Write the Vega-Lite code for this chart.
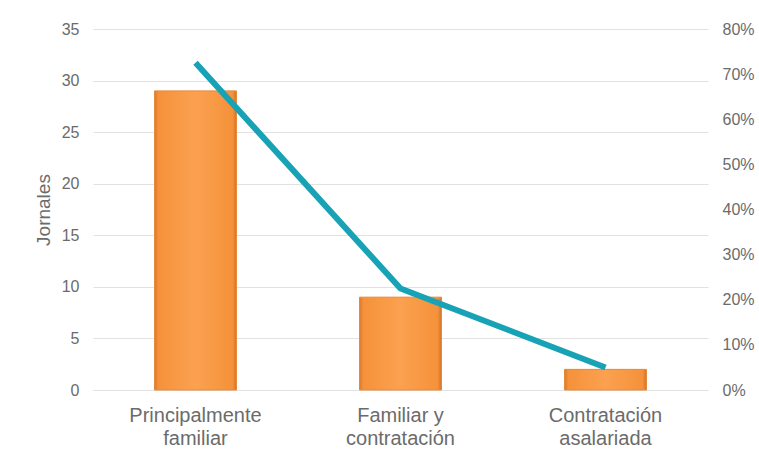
{
  "$schema": "https://vega.github.io/schema/vega-lite/v6.json",
  "autosize": {"type": "none"},
  "padding": {"left": 93, "top": 29, "right": 51, "bottom": 68},
  "width": 615,
  "height": 361,
  "background": "#ffffff",
  "config": {
    "view": {"stroke": null},
    "font": "Liberation Sans",
    "axis": {
      "domain": false,
      "ticks": false,
      "labelColor": "#6b6b6b",
      "labelFont": "Liberation Sans",
      "labelFontSize": 16,
      "titleColor": "#6b6b6b",
      "titleFont": "Liberation Sans",
      "titleFontWeight": "normal",
      "gridColor": "#e2e2e2",
      "gridWidth": 1
    }
  },
  "data": {
    "values": [
      {"categoria": "Principalmente familiar", "jornales": 29, "porcentaje": 0.725},
      {"categoria": "Familiar y contratación", "jornales": 9, "porcentaje": 0.225},
      {"categoria": "Contratación asalariada", "jornales": 2, "porcentaje": 0.05}
    ]
  },
  "encoding": {
    "x": {
      "field": "categoria",
      "type": "nominal",
      "sort": null,
      "scale": {"paddingInner": 0.6, "paddingOuter": 0.3},
      "axis": {
        "title": null,
        "labelAngle": 0,
        "labelFontSize": 20,
        "labelPadding": 15,
        "labelLineHeight": 23,
        "labelExpr": "split(replace(datum.label, /^(Principalmente|Familiar y|Contratación) /, '$1|'), '|')"
      }
    }
  },
  "layer": [
    {
      "mark": {
        "type": "bar",
        "fill": {
          "gradient": "linear",
          "x1": 0, "y1": 0, "x2": 1, "y2": 0,
          "stops": [
            {"offset": 0, "color": "#dc7a2b"},
            {"offset": 0.05, "color": "#f5923b"},
            {"offset": 0.5, "color": "#fba150"},
            {"offset": 0.95, "color": "#f5923b"},
            {"offset": 1, "color": "#d4742a"}
          ]
        },
        "stroke": "#e48a3a",
        "strokeWidth": 1
      },
      "encoding": {
        "y": {
          "field": "jornales",
          "type": "quantitative",
          "scale": {"domain": [0, 35], "nice": false},
          "axis": {
            "title": "Jornales",
            "titleFontSize": 19,
            "titlePadding": 8,
            "values": [0, 5, 10, 15, 20, 25, 30, 35],
            "labelPadding": 14,
            "grid": true
          }
        }
      }
    },
    {
      "mark": {"type": "line", "color": "#18a2b6", "strokeWidth": 6, "strokeCap": "butt", "strokeJoin": "round"},
      "encoding": {
        "y": {
          "field": "porcentaje",
          "type": "quantitative",
          "scale": {"domain": [0, 0.8], "nice": false},
          "axis": {
            "orient": "right",
            "title": null,
            "format": ".0%",
            "values": [0, 0.1, 0.2, 0.3, 0.4, 0.5, 0.6, 0.7, 0.8],
            "labelPadding": 14,
            "grid": false
          }
        }
      }
    }
  ],
  "resolve": {"scale": {"y": "independent"}}
}
